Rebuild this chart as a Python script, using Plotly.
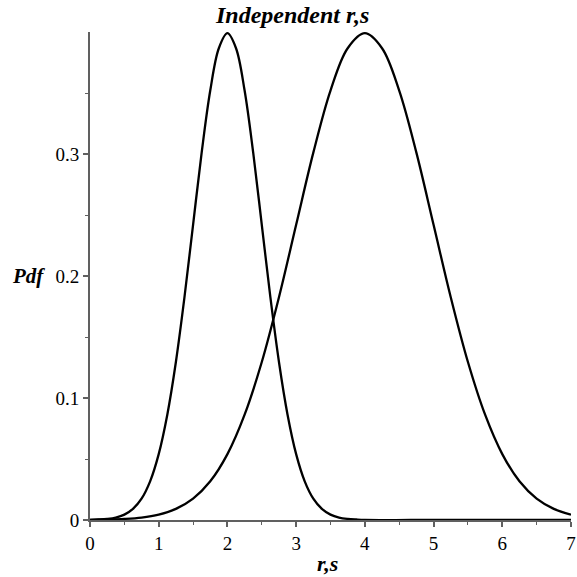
import plotly.graph_objects as go

# r curve (narrow peak at 2)
r_x = [0, 0.125, 0.25, 0.375, 0.5, 0.625, 0.75, 0.875, 1.0, 1.125, 1.25, 1.375, 1.5, 1.625,
       1.75, 1.875, 2.0, 2.125, 2.25, 2.375, 2.5, 2.625, 2.75, 2.875, 3.0, 3.125, 3.25, 3.375,
       3.5, 3.625, 3.75, 3.875, 4.0, 5.0, 6.0, 7.0]
pdf_r = [0.0001, 0.0004, 0.0009, 0.002, 0.0044, 0.0091, 0.0175, 0.0317, 0.054, 0.0863, 0.1295,
         0.1826, 0.242, 0.3011, 0.352, 0.3867, 0.399, 0.3867, 0.352, 0.3011, 0.242, 0.1826,
         0.1295, 0.0863, 0.054, 0.0317, 0.0175, 0.0091, 0.0044, 0.002, 0.0009, 0.0004, 0.0001,
         0.0, 0.0, 0.0]

# s curve (wide peak at 4)
s_x = [0, 0.25, 0.5, 0.75, 1.0, 1.25, 1.5, 1.75, 2.0, 2.25, 2.5, 2.75, 3.0, 3.25, 3.5,
       3.75, 4.0, 4.25, 4.5, 4.75, 5.0, 5.25, 5.5, 5.75, 6.0, 6.25, 6.5, 6.75, 7.0]
pdf_s = [0.0001, 0.0004, 0.0009, 0.002, 0.0044, 0.0091, 0.0175, 0.0317, 0.054, 0.0863,
         0.1295, 0.1826, 0.242, 0.3011, 0.352, 0.3867, 0.399, 0.3867, 0.352, 0.3011, 0.242,
         0.1826, 0.1295, 0.0863, 0.054, 0.0317, 0.0175, 0.0091, 0.0044]

x_ticks = [0, 1, 2, 3, 4, 5, 6, 7]
y_ticks = [0, 0.1, 0.2, 0.3]
y_tick_text = ["0", "0.1", "0.2", "0.3"]

serif = "Liberation Serif, Times New Roman, serif"

fig = go.Figure()
for xs, ys in ((r_x, pdf_r), (s_x, pdf_s)):
    fig.add_trace(go.Scatter(x=xs, y=ys, mode="lines",
                             line=dict(color="black", width=2.3, shape="spline", smoothing=1.0),
                             showlegend=False, hoverinfo="skip"))

axis_color = "#606060"
fig.update_layout(
    width=577, height=577,
    margin=dict(l=90, r=6, t=32, b=57),
    paper_bgcolor="white", plot_bgcolor="white",
    font=dict(family=serif, size=19, color="black"),
    xaxis=dict(range=[0, 7], showgrid=False, zeroline=False, showline=True, linecolor=axis_color, linewidth=2,
               automargin=False, ticklabeloverflow="allow",
               tickmode="array", tickvals=x_ticks, ticktext=[str(t) for t in x_ticks],
               ticks="outside", ticklen=5, tickwidth=1.5, tickcolor=axis_color,
               minor=dict(ticks="outside", dtick=0.5, ticklen=3, tickcolor=axis_color, tickwidth=1.2),
               tickfont=dict(family=serif, size=19, color="black")),
    yaxis=dict(range=[0, 0.40], showgrid=False, zeroline=False, showline=True, linecolor=axis_color, linewidth=2,
               automargin=False, ticklabeloverflow="allow",
               tickmode="array", tickvals=y_ticks, ticktext=y_tick_text,
               ticks="outside", ticklen=5, tickwidth=1.5, tickcolor=axis_color,
               minor=dict(ticks="outside", tickvals=[0.05, 0.15, 0.25, 0.35], ticklen=3, tickcolor=axis_color, tickwidth=1.2),
               tickfont=dict(family=serif, size=19, color="black")),
    annotations=[
        dict(text="<b><i>Independent r,s</i></b>", xref="paper", yref="paper", x=(292 - 90) / 481, y=1.0, yshift=17,
             showarrow=False, font=dict(family=serif, size=24, color="black"), xanchor="center", yanchor="middle"),
        dict(text="<b><i>Pdf</i></b>", xref="paper", yref="y", x=0, xshift=-62, y=0.2,
             showarrow=False, font=dict(family=serif, size=21, color="black"), xanchor="center", yanchor="middle"),
        dict(text="<b><i>r,s</i></b>", xref="x", yref="paper", x=3.45, y=0, yshift=-43,
             showarrow=False, font=dict(family=serif, size=22, color="black"), xanchor="center", yanchor="middle"),
    ],
)

fig.write_html("out.html", config={"displayModeBar": False},
               post_script="document.body.style.margin='0';document.body.style.overflow='hidden';")
